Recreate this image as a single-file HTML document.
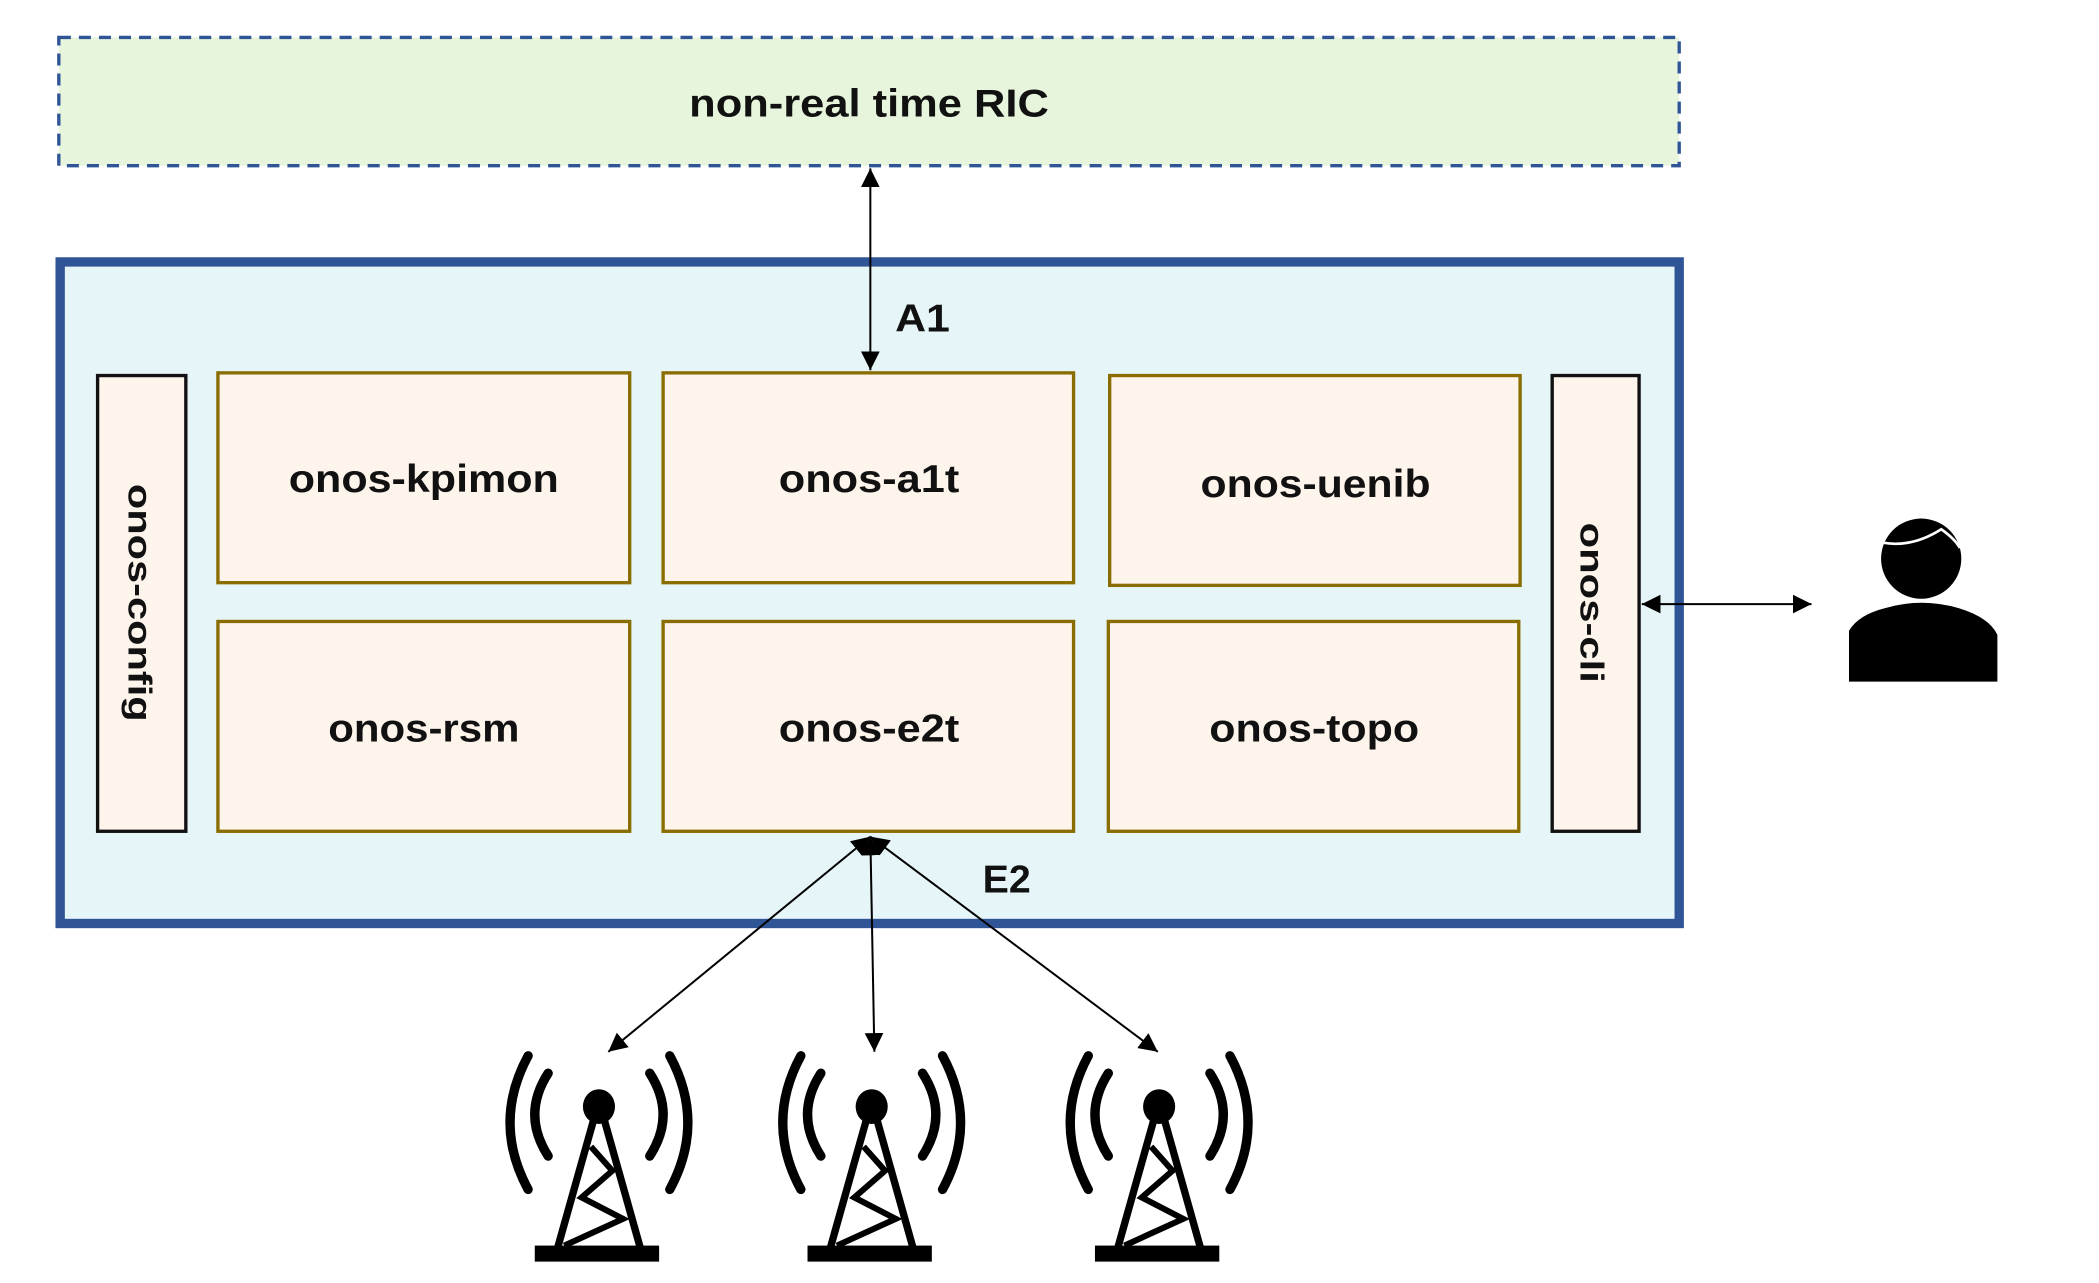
<!DOCTYPE html>
<html><head><meta charset="utf-8"><style>
html,body{margin:0;padding:0;background:#fff;}
svg{display:block;}
text{font-family:"Liberation Sans",sans-serif;font-weight:bold;fill:#111;}
</style></head><body>
<svg width="2099" height="1283" viewBox="0 0 1570 960" preserveAspectRatio="none" xmlns="http://www.w3.org/2000/svg">
<defs>
<marker id="ah" viewBox="0 0 10 10" refX="10" refY="5" markerWidth="14" markerHeight="14" markerUnits="userSpaceOnUse" orient="auto-start-reverse">
<path d="M0,0 L10,5 L0,10 z" fill="#000"/></marker>
<g id="tower">
<path d="M-38,-25 Q-58,6 -38,37" fill="none" stroke="#000" stroke-width="7" stroke-linecap="round"/>
<path d="M-53,-38 Q-80,12 -53,62" fill="none" stroke="#000" stroke-width="7" stroke-linecap="round"/>
<path d="M38,-25 Q58,6 38,37" fill="none" stroke="#000" stroke-width="7" stroke-linecap="round"/>
<path d="M53,-38 Q80,12 53,62" fill="none" stroke="#000" stroke-width="7" stroke-linecap="round"/>
<ellipse cx="0" cy="0" rx="12" ry="13" fill="#000"/>
<path d="M-4,10 L-31,106 M4,10 L31,106" stroke="#000" stroke-width="5.5" fill="none"/>
<path d="M-6,30 L10,48 L-13,68 L18,84 L-26,104" stroke="#000" stroke-width="4.5" fill="none"/>
<rect x="-48" y="104" width="93" height="12" fill="#000"/>
</g>
</defs>
<rect x="44" y="28" width="1212" height="96" fill="#e7f5dd" stroke="#2f5597" stroke-width="2.5" stroke-dasharray="9,6"/>
<text x="650" y="87" font-size="29" text-anchor="middle" textLength="269" lengthAdjust="spacingAndGlyphs">non-real time RIC</text>
<rect x="45" y="196" width="1211" height="495" fill="#e6f6f8" stroke="#2f5597" stroke-width="7"/>
<g fill="#fdf4ec" stroke="#8a6d00" stroke-width="2.5">
<rect x="163" y="279" width="308" height="157"/>
<rect x="496" y="279" width="307" height="157"/>
<rect x="830" y="281" width="307" height="157"/>
<rect x="163" y="465" width="308" height="157"/>
<rect x="496" y="465" width="307" height="157"/>
<rect x="829" y="465" width="307" height="157"/>
</g>
<g fill="#fdf4ec" stroke="#111" stroke-width="2.5">
<rect x="73" y="281" width="66" height="341"/>
<rect x="1161" y="281" width="65" height="341"/>
</g>
<g font-size="29" text-anchor="middle">
<text x="317" y="368" textLength="202" lengthAdjust="spacingAndGlyphs">onos-kpimon</text>
<text x="650" y="368" textLength="135" lengthAdjust="spacingAndGlyphs">onos-a1t</text>
<text x="984" y="372" textLength="172" lengthAdjust="spacingAndGlyphs">onos-uenib</text>
<text x="317" y="555" textLength="143" lengthAdjust="spacingAndGlyphs">onos-rsm</text>
<text x="650" y="555" textLength="135" lengthAdjust="spacingAndGlyphs">onos-e2t</text>
<text x="983" y="555" textLength="157" lengthAdjust="spacingAndGlyphs">onos-topo</text>
<text x="690" y="248" textLength="41" lengthAdjust="spacingAndGlyphs">A1</text>
<text x="753" y="668" textLength="36" lengthAdjust="spacingAndGlyphs">E2</text>
</g>
<text transform="translate(96,451) rotate(90)" font-size="25" text-anchor="middle" textLength="178" lengthAdjust="spacingAndGlyphs">onos-config</text>
<text transform="translate(1182,451) rotate(90)" font-size="25" text-anchor="middle" textLength="120" lengthAdjust="spacingAndGlyphs">onos-cli</text>
<g stroke="#000" stroke-width="1.5" fill="none">
<line x1="651" y1="126" x2="651" y2="277" marker-start="url(#ah)" marker-end="url(#ah)"/>
<line x1="1228" y1="452" x2="1355" y2="452" marker-start="url(#ah)" marker-end="url(#ah)"/>
<line x1="651" y1="626" x2="455" y2="787" marker-start="url(#ah)" marker-end="url(#ah)"/>
<line x1="651" y1="626" x2="654" y2="787" marker-start="url(#ah)" marker-end="url(#ah)"/>
<line x1="651" y1="626" x2="866" y2="787" marker-start="url(#ah)" marker-end="url(#ah)"/>
</g>
<use href="#tower" x="448" y="828"/>
<use href="#tower" x="652" y="828"/>
<use href="#tower" x="867" y="828"/>
<circle cx="1437" cy="418" r="30" fill="#000"/>
<path d="M1408,406 Q1430,410 1452,396 Q1462,403 1466,410" stroke="#fff" stroke-width="2" fill="none"/>
<path d="M1383,510 L1383,472 Q1390,460 1410,455 Q1437,447 1465,455 Q1488,462 1494,475 L1494,510 Z" fill="#000"/>
</svg>
</body></html>
